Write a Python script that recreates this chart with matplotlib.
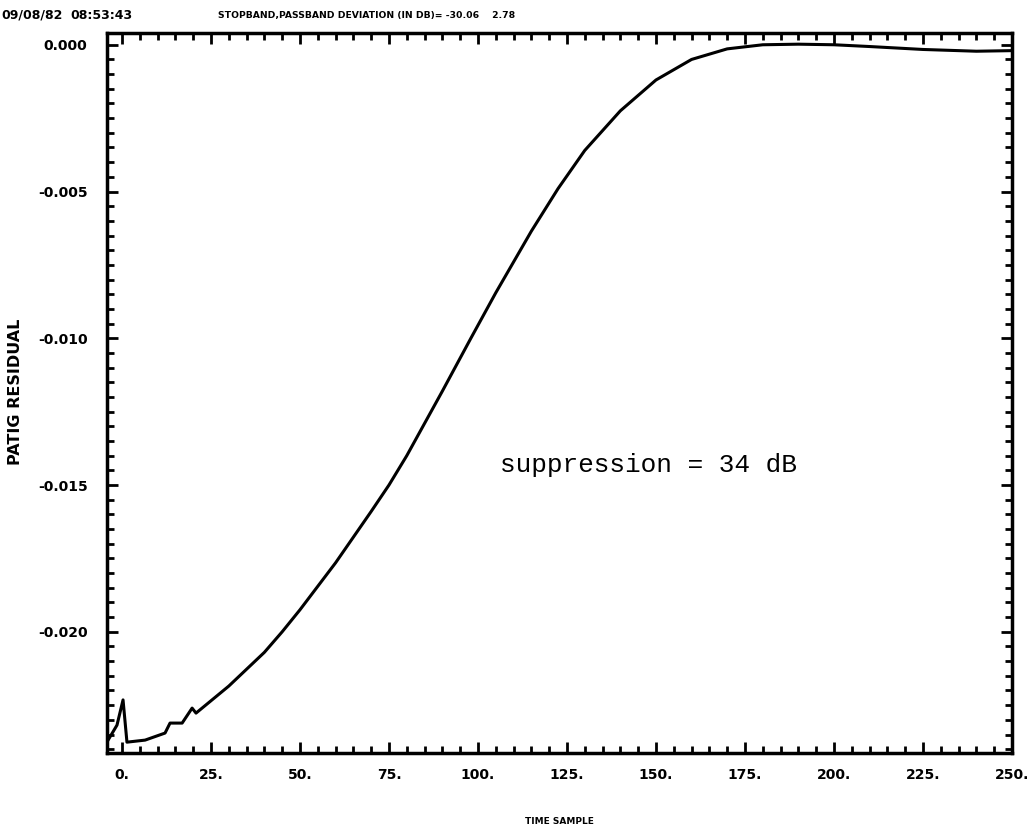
import matplotlib.pyplot as plt
from matplotlib.ticker import MultipleLocator

# residual vs time sample
sample = [-3.9, -1.4, 0.3, 1.4, 6.5, 12.1, 13.5, 16.9, 19.7, 20.8,
          30, 40, 45, 50, 60, 70, 75, 80, 90, 98, 105, 115, 122.5,
          130, 140, 150, 160, 170, 180, 190, 200, 210, 225, 240, 250]
residual = [-0.02369, -0.02318, -0.02232, -0.02376, -0.02369, -0.02345,
            -0.02311, -0.02311, -0.0226, -0.02277,
            -0.02185, -0.02070, -0.02000, -0.01925, -0.01765, -0.01590,
            -0.01500, -0.01400, -0.01180, -0.01000, -0.00845, -0.00635,
            -0.00490, -0.00360, -0.00225, -0.00120, -0.00050, -0.00014,
            0.0, 0.00002, 0.0, -0.00006, -0.00016, -0.00022, -0.00020]

xticks = [0, 25, 50, 75, 100, 125, 150, 175, 200, 225, 250]
xticklabels = ["0.", "25.", "50.", "75.", "100.", "125.", "150.", "175.",
               "200.", "225.", "250."]
yticks = [0.0, -0.005, -0.010, -0.015, -0.020]
yticklabels = ["0.000", "-0.005", "-0.010", "-0.015", "-0.020"]

stamp_date = "09/08/82"
stamp_time = "08:53:43"
caption = "STOPBAND,PASSBAND DEVIATION (IN DB)= -30.06    2.78"

fig = plt.figure(figsize=(10.36, 8.34), dpi=100)
ax = fig.add_axes([0.1033, 0.0971, 0.8735, 0.8633])

ax.plot(sample, residual, color="black", lw=2.2)

ax.set_xlim(-4.2, 250)
ax.set_ylim(-0.02413, 0.0004)

ax.set_xticks(xticks)
ax.set_xticklabels(xticklabels)
ax.set_yticks(yticks)
ax.set_yticklabels(yticklabels)
ax.xaxis.set_minor_locator(MultipleLocator(5))
ax.yaxis.set_minor_locator(MultipleLocator(0.0005))

ax.tick_params(which="both", direction="in", top=True, right=True,
               width=2, labelsize=10)
ax.tick_params(axis="x", pad=11)
ax.tick_params(axis="y", pad=14)
ax.tick_params(which="major", length=8)
ax.tick_params(which="minor", length=5)
for lab in ax.get_xticklabels() + ax.get_yticklabels():
    lab.set_fontweight("bold")
for sp in ax.spines.values():
    sp.set_linewidth(2.5)

fig.text(0.001, 0.982, stamp_date, fontsize=9, fontweight="bold", va="center")
fig.text(0.068, 0.982, stamp_time, fontsize=9, fontweight="bold", va="center")
fig.text(0.21, 0.982, caption, fontsize=6.7, fontweight="bold", va="center")
fig.text(0.54, 0.015, "TIME SAMPLE", fontsize=6.5, fontweight="bold",
         ha="center", va="center")
fig.text(0.015, 0.53, "PATIG RESIDUAL", fontsize=11.5, fontweight="bold",
         rotation=90, ha="center", va="center")

ax.text(0.434, 0.39, "suppression = 34 dB", transform=ax.transAxes,
        family="Liberation Mono", fontsize=18.8)

fig.savefig("out.png")
